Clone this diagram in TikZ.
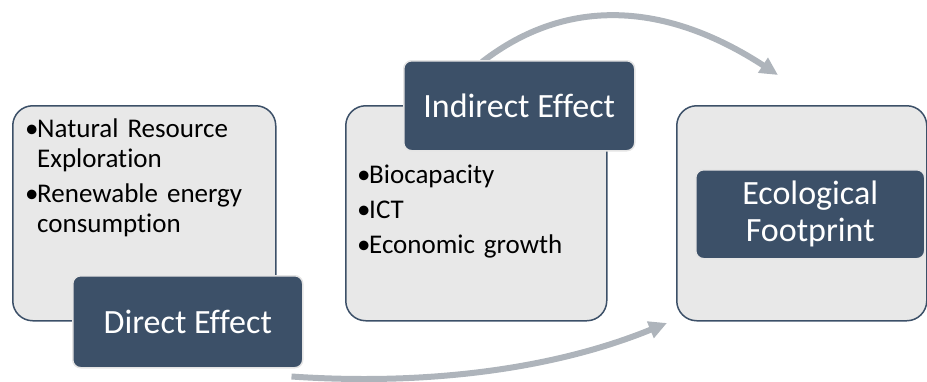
\documentclass[tikz,border=0pt]{standalone}
\usepackage{fontspec}
\setmainfont{Carlito}[Ligatures=NoCommon]
\usetikzlibrary{arrows.meta,backgrounds}
\definecolor{tagblue}{HTML}{3C5068}
\definecolor{panelgrey}{HTML}{E8E8E8}
\definecolor{flowgrey}{HTML}{AEB4BB}
\tikzset{
    panel/.style={anchor=north west,draw=tagblue,fill=panelgrey,line width=1.5pt,rounded corners=20pt,minimum width=#1,minimum height=215pt,inner sep=0pt},
    tag/.style 2 args={anchor=north west,fill=tagblue,draw=white!90!black,line width=1.5pt,rounded corners=8pt,text=white,font=\fontsize{34}{37}\selectfont,align=center,minimum width=#1,minimum height=#2,inner sep=0pt},
    items/.style={anchor=north west,inner sep=0pt,text width=240pt,align=left,font=\fontsize{27}{30}\selectfont},
    flow/.style={flowgrey,line width=6pt,-{Triangle[length=18pt,width=17pt]}}
}
\newcommand\bitem[1]{\hangindent=12pt\hangafter=1\noindent\makebox[12pt][l]{•}\rule{0pt}{22pt}#1\par}

\begin{document}
\begin{tikzpicture}[x=1pt,y=-1pt]
  \useasboundingbox (0,0) rectangle (927,381);

  % Panels
  \node[panel=263pt] (natural) at (12,105) {};
  \node[panel=261pt] (bio) at (345,105) {};
  \node[panel=250pt] (eco) at (676,105) {};

  % Lists
  \node[items] (directlist) at (25,115) {\setlength\parskip{5pt}%
    \bitem{Natural Resource Exploration}
    \bitem{Renewable energy consumption}};
  \node[items] (indirectlist) at (357,161) {\setlength\parskip{5pt}%
    \bitem{Biocapacity}
    \bitem{ICT}
    \bitem{Economic growth}};

  % Tags
  \node[tag={230pt}{92pt}] (direct) at (72,275) {Direct Effect};
  \node[tag={231pt}{90pt}] (indirect) at (403,60) {Indirect Effect};
  \node[tag={229pt}{89pt}] (footprint) at (695,169) {Ecological\\Footprint};

  % Flows
  \coordinate (toptip) at (778,75);
  \coordinate (lowtip) at (667,323);
  \begin{scope}[on background layer]
    \draw[flow] ([xshift=79pt,yshift=-2pt]indirect.north west) .. controls (567,-4) and (666,2) .. (toptip);
    \draw[flow] ([xshift=-12pt,yshift=-8pt]direct.south east) .. controls (431,386) and (557,368) .. (lowtip);
  \end{scope}
\end{tikzpicture}
\end{document}
